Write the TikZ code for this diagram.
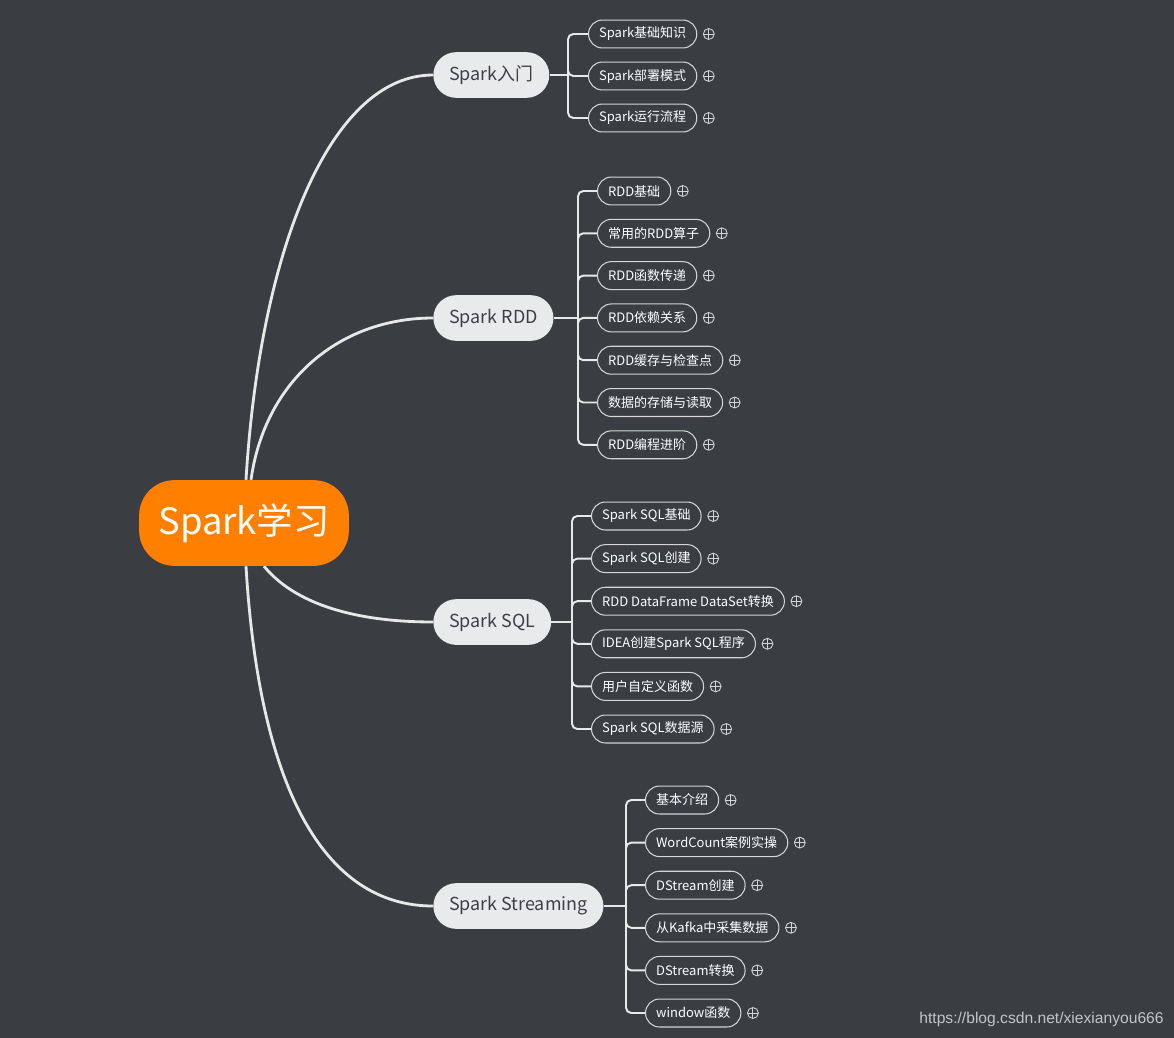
\documentclass[tikz,border=0pt]{standalone}
\usepackage{fontspec}
\setmainfont{Noto Sans CJK SC}
\newfontfamily\markfont{Liberation Sans}
\usetikzlibrary{positioning,backgrounds}

\definecolor{bgdark}{HTML}{3A3D42}
\definecolor{rootorange}{HTML}{FF8000}
\definecolor{topicgray}{HTML}{E9EAEB}
\definecolor{topictext}{HTML}{3C3F44}
\definecolor{linegray}{HTML}{E8E8E8}
\definecolor{leafborder}{HTML}{D4D4D4}
\definecolor{markgray}{HTML}{C4C4C4}

\tikzset{
  rootbox/.style={fill=rootorange,text=white,rounded corners=20pt,
    minimum height=48.8pt,inner xsep=11pt,inner ysep=0pt,
    font=\fontsize{20.7}{24}\selectfont},
  topic/.style={fill=topicgray,text=topictext,rounded corners=13pt,
    minimum height=26pt,inner xsep=9pt,inner ysep=0pt,
    font=\fontsize{10.2}{12}\selectfont},
  leaf/.style={draw=leafborder,line width=0.6pt,fill=bgdark,text=white,
    rounded corners=7.9pt,minimum height=15.9pt,inner xsep=6pt,inner ysep=0pt,
    font=\fontsize{7.4}{9}\selectfont},
  plussign/.style={circle,draw=leafborder,line width=0.5pt,minimum size=6.2pt,
    inner sep=0pt,
    path picture={\draw[leafborder,line width=0.5pt]
      (path picture bounding box.north) -- (path picture bounding box.south)
      (path picture bounding box.west) -- (path picture bounding box.east);}},
  curveline/.style={draw=linegray,line width=1.6pt},
  branch/.style={draw=linegray,line width=1.1pt,rounded corners=3pt}
}

\begin{document}
\begin{tikzpicture}[x=0.02cm,y=-0.02cm]
  \useasboundingbox (0,0) rectangle (1174,1038);

  % centre and main topics
  \node[rootbox] (root) at (244,523) {Spark学习};
  \node[topic,anchor=west] (rumen) at (433,75) {Spark入门};
  \node[topic,anchor=west] (rdd) at (433,318) {Spark RDD};
  \node[topic,anchor=west] (sql) at (433,622) {Spark SQL};
  \node[topic,anchor=west] (stream) at (433,906) {Spark Streaming};

  \begin{scope}[on background layer]
    \fill[bgdark] (0,0) rectangle (1174,1038);
    \draw[curveline] ([xshift=0.04cm]root.north) .. controls (260,250) and (330,75) .. (rumen.west);
    \draw[curveline] ([xshift=0.14cm]root.north) .. controls (265,380) and (340,318) .. (rdd.west);
    \draw[curveline] ([xshift=0.4cm]root.south) .. controls (300,610) and (370,622) .. (sql.west);
    \draw[curveline] ([xshift=0.04cm]root.south) .. controls (260,800) and (330,906) .. (stream.west);
  \end{scope}

  % Spark入门
  \coordinate (rumenj) at (568,75);
  \draw[branch] (rumen) -- (rumenj);
  \foreach \txt [count=\i] in {Spark基础知识,Spark部署模式,Spark运行流程} {
    \node[leaf,anchor=west] (rm\i) at (588,{34+42*(\i-1)}) {\txt};
    \node[plussign,right=3.2pt of rm\i] (rmp\i) {};
    \draw[branch] (rumenj) |- (rm\i.west);
  }

  % Spark RDD
  \coordinate (rddj) at (578,318);
  \draw[branch] (rdd) -- (rddj);
  \foreach \txt [count=\i] in {RDD基础,常用的RDD算子,RDD函数传递,RDD依赖关系,
      RDD缓存与检查点,数据的存储与读取,RDD编程进阶} {
    \node[leaf,anchor=west] (rd\i) at (597,{191+42.3*(\i-1)}) {\txt};
    \node[plussign,right=3.2pt of rd\i] (rdp\i) {};
    \draw[branch] (rddj) |- (rd\i.west);
  }

  % Spark SQL
  \coordinate (sqlj) at (572,622);
  \draw[branch] (sql) -- (sqlj);
  \foreach \txt [count=\i] in {Spark SQL基础,Spark SQL创建,RDD DataFrame DataSet转换,
      IDEA创建Spark SQL程序,用户自定义函数,Spark SQL数据源} {
    \node[leaf,anchor=west] (sq\i) at (591,{516+42.6*(\i-1)}) {\txt};
    \node[plussign,right=3.2pt of sq\i] (sqp\i) {};
    \draw[branch] (sqlj) |- (sq\i.west);
  }

  % Spark Streaming
  \coordinate (streamj) at (626,906);
  \draw[branch] (stream) -- (streamj);
  \foreach \txt [count=\i] in {基本介绍,WordCount案例实操,DStream创建,从Kafka中采集数据,
      DStream转换,window函数} {
    \node[leaf,anchor=west] (st\i) at (645,{800+42.6*(\i-1)}) {\txt};
    \node[plussign,right=3.2pt of st\i] (stp\i) {};
    \draw[branch] (streamj) |- (st\i.west);
  }

  \node[anchor=east,inner sep=0pt,text=markgray,font=\markfont\fontsize{8.9}{11}\selectfont]
    (mark) at (1164,1019) {https://blog.csdn.net/xiexianyou666};
\end{tikzpicture}
\end{document}
